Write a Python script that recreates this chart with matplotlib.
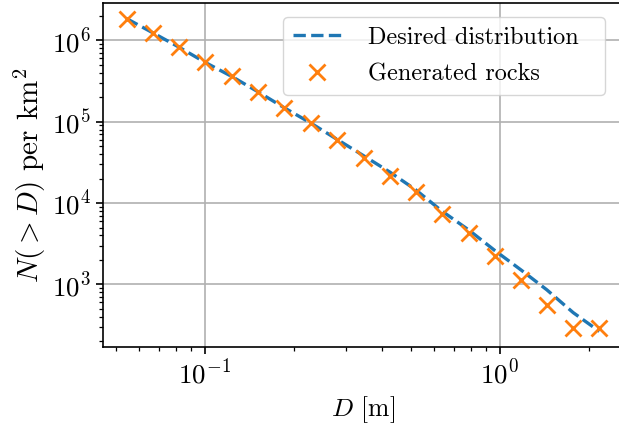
import matplotlib
matplotlib.use("Agg")
import matplotlib.pyplot as plt
import numpy as np

# rock diameters [m] and cumulative counts per km^2
D = [0.0544, 0.0667, 0.0816, 0.100, 0.1235, 0.151, 0.185, 0.229, 0.280, 0.346,
     0.424, 0.519, 0.635, 0.785, 0.962, 1.18, 1.44, 1.77, 2.17]
N_rocks = [1.85e6, 1.24e6, 8.27e5, 5.37e5, 3.62e5, 2.30e5, 1.47e5, 9.55e4, 5.9e4, 3.62e4,
           2.14e4, 1.36e4, 7.29e3, 4.3e3, 2.26e3, 1.15e3, 562, 288, 288]
N_desired = [1.85e6, 1.24e6, 8.3e5, 5.4e5, 3.6e5, 2.35e5, 1.5e5, 9.6e4, 6.1e4, 3.8e4,
             2.4e4, 1.45e4, 8.0e3, 4.65e3, 2.6e3, 1.5e3, 860, 450, 265]

plt.rcParams['font.family'] = 'cmr10'
plt.rcParams['mathtext.fontset'] = 'cm'
plt.rcParams['axes.formatter.use_mathtext'] = True
plt.rcParams['font.size'] = 17.5
plt.rcParams['xtick.labelsize'] = 19.5
plt.rcParams['ytick.labelsize'] = 19.5
plt.rcParams['axes.labelsize'] = 18.5
plt.rcParams['axes.linewidth'] = 1.2
plt.rcParams['xtick.major.size'] = 5.1
plt.rcParams['ytick.major.size'] = 5.1
plt.rcParams['xtick.minor.size'] = 2.9
plt.rcParams['ytick.minor.size'] = 2.9
plt.rcParams['xtick.major.width'] = 1.2
plt.rcParams['ytick.major.width'] = 1.2
plt.rcParams['xtick.minor.width'] = 0.9
plt.rcParams['ytick.minor.width'] = 0.9

fig = plt.figure(figsize=(6.19, 4.28), dpi=100)
ax = fig.add_axes([103 / 619, 81 / 428, 520 / 619, 344 / 428])

ax.loglog(D, N_desired, '--', color='tab:blue', lw=2.4, label='Desired distribution')
ax.loglog(D, N_rocks, 'x', color='tab:orange', ms=11.5, mew=2.0, linestyle='none',
          label='Generated rocks')

ax.grid(True, which='major', color='#b0b0b0', lw=1.2)
ax.set_xlabel('$D$ [m]')
ax.set_ylabel('$N(>D)$ per km$^2$', fontsize=21, labelpad=3)
ax.legend(loc='upper right', bbox_to_anchor=(0.3462, 0.5, 0.6192, 0.4593),
          mode='expand', borderaxespad=0, handletextpad=1.1, labelspacing=0.6)

fig.savefig('out.png', dpi=100)
